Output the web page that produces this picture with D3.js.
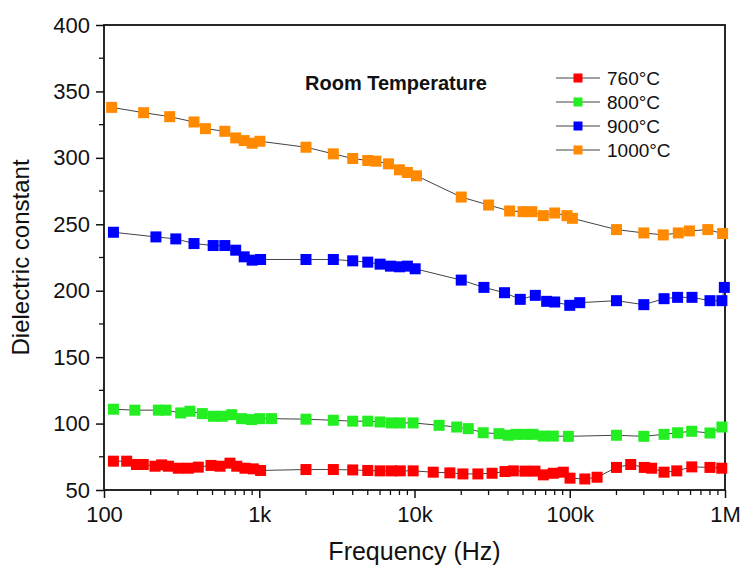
<!DOCTYPE html>
<html>
  <head>
    <meta charset="utf-8" />
    <title>Dielectric constant vs frequency</title>
    <script src="https://d3js.org/d3.v7.min.js"></script>
    <style>
      body { margin: 0; background: white; }
      text { font-family: "Liberation Sans", Arial, sans-serif; fill: #111; }
    </style>
  </head>
  <body>
    <svg width="742" height="570" id="chart"></svg>

    <script>
      // Data
      var seriesNames = ["760°C", "800°C", "900°C", "1000°C"];
      var seriesColors = ["#ff0000", "#22ee22", "#0000ff", "#ff8a00"];

      var freq760 = [115, 140, 162, 179, 213, 235, 260, 301, 349, 405, 489, 559, 648, 716, 809, 916, 1020,
        2000, 3000, 4000, 5000, 6000, 7100, 8100, 9800, 13200, 16900, 20500, 25600, 31600, 38300, 43300,
        51500, 59700, 67600, 78300, 90900, 100400, 125000, 150000, 200000, 247000, 302000, 337000,
        405000, 489000, 611000, 800000, 953000];
      var val760 = [71.7, 71.7, 69.2, 69.2, 67.9, 68.9, 67.9, 66.4, 66.4, 67.2, 68.5, 67.9, 70.2, 67.9, 66.4,
        65.9, 64.7, 65.4, 65.4, 65.1, 64.7, 64.4, 64.4, 64.4, 64.4, 63.4, 62.9, 62.1, 62.1, 62.6, 63.9, 64.4,
        64.2, 64.2, 61.4, 62.6, 63.4, 58.9, 58.3, 59.6, 67, 69.2, 67, 66.4, 63.4, 64.4, 67.4, 67, 66.4];

      var freq800 = [115, 158, 224, 251, 312, 358, 430, 506, 578, 665, 771, 894, 1010, 1200, 2000, 3000,
        4000, 5000, 6000, 7100, 8100, 9800, 14400, 18700, 22200, 27700, 35000, 40200, 45000, 51000, 58000,
        67500, 78300, 98000, 200000, 300000, 405000, 495000, 610000, 800000, 955000];
      var val800 = [110.8, 110.1, 110.1, 110.1, 108, 109.3, 107.5, 105.5, 105.5, 106.7, 103.7, 103, 103.7,
        103.7, 103.3, 102.5, 101.8, 101.8, 101.2, 100.5, 100.5, 100.5, 98.7, 97.4, 96.2, 93.1, 92.4, 91.2,
        91.9, 91.9, 91.9, 90.6, 90.6, 90.4, 91.2, 90.4, 91.9, 93.1, 94.2, 92.9, 97.4];

      var freq900 = [115, 216, 290, 380, 505, 600, 705, 800, 900, 1020, 2000, 3000, 4000, 5000, 6000, 7000,
        8000, 9000, 10100, 20000, 28000, 38000, 48000, 60000, 71000, 80000, 100000, 116000, 200000, 300000,
        405000, 495000, 613000, 800000, 955000, 990000];
      var val900 = [244, 240.5, 239, 235.5, 234, 234, 230.5, 225.5, 223, 223.5, 223.5, 223.5, 222.5, 221.5,
        220, 218.5, 218, 218.5, 216.5, 208, 202.5, 198.5, 193.5, 196.5, 192, 191.5, 189, 191, 192.5, 189.5,
        194, 195, 195, 192.5, 192.5, 202.5];

      var freq1000 = [112, 180, 265, 380, 450, 600, 705, 800, 900, 1010, 2000, 3000, 4000, 5000, 5650, 6800,
        8000, 9000, 10300, 20000, 30000, 41000, 50000, 57000, 67500, 80000, 96000, 104000, 200000, 300000,
        400000, 500000, 590000, 775000, 965000];
      var val1000 = [338, 334, 331, 327, 322, 320, 315, 313, 311, 312.5, 308, 303, 299.5, 298, 297.5, 295.5,
        291, 289, 286.5, 270.5, 264.5, 260, 259.5, 259.5, 256.5, 258.5, 256.5, 254.5, 246, 243.5, 242, 243.5,
        245, 246, 243];

      var xTickValues = [100, 1000, 10000, 100000, 1000000];
      var xTickLabels = ["100", "1k", "10k", "100k", "1M"];
      var yTickValues = [50, 100, 150, 200, 250, 300, 350, 400];

      var allFreqs = [freq760, freq800, freq900, freq1000];
      var allVals = [val760, val800, val900, val1000];

      var series = seriesNames.map(function(name, i) {
        return {
          name: name,
          color: seriesColors[i],
          points: allFreqs[i].map(function(f, j) { return { f: f, v: allVals[i][j] }; })
        };
      });

      var plotLeft = 104, plotRight = 725, plotTop = 25, plotBottom = 490;
      var svg = d3.select("#chart");

      var x = d3.scaleLog().domain([100, 1000000]).range([plotLeft, plotRight]);
      var y = d3.scaleLinear().domain([50, 400]).range([plotBottom, plotTop]);

      // minor ticks
      var xMinor = [];
      for (var d = 100; d < 1000000; d *= 10) {
        for (var k = 2; k <= 9; k++) xMinor.push(d * k);
      }
      var yMinor = d3.range(75, 400, 50);

      // bottom axis
      var xAxis = d3.axisBottom(x).tickValues(xTickValues)
        .tickFormat(function(d, i) { return xTickLabels[i]; })
        .tickSize(8).tickPadding(6);
      var gx = svg.append("g").attr("transform", "translate(0," + plotBottom + ")").call(xAxis);
      gx.selectAll("line").attr("stroke", "#111").attr("stroke-width", 1.5);
      gx.select(".domain").remove();
      gx.selectAll("text").style("font-size", "22px").attr("dy", "0.8em");
      gx.selectAll(".minor").data(xMinor).enter().append("line")
        .attr("class", "minor")
        .attr("x1", function(d) { return x(d); }).attr("x2", function(d) { return x(d); })
        .attr("y1", 0).attr("y2", 5)
        .attr("stroke", "#111").attr("stroke-width", 1.3);

      // left axis
      var yAxis = d3.axisLeft(y).tickValues(yTickValues).tickSize(8).tickPadding(6);
      var gy = svg.append("g").attr("transform", "translate(" + plotLeft + ",0)").call(yAxis);
      gy.selectAll("line").attr("stroke", "#111").attr("stroke-width", 1.5);
      gy.select(".domain").remove();
      gy.selectAll("text").style("font-size", "22px");
      gy.selectAll(".minor").data(yMinor).enter().append("line")
        .attr("class", "minor")
        .attr("x1", 0).attr("x2", -5)
        .attr("y1", function(d) { return y(d); }).attr("y2", function(d) { return y(d); })
        .attr("stroke", "#111").attr("stroke-width", 1.3);

      // frame
      svg.append("rect")
        .attr("x", plotLeft).attr("y", plotTop)
        .attr("width", plotRight - plotLeft).attr("height", plotBottom - plotTop)
        .attr("fill", "none").attr("stroke", "#111").attr("stroke-width", 1.8);

      // lines + markers
      var line = d3.line()
        .x(function(d) { return x(d.f); })
        .y(function(d) { return y(d.v); });

      var plot = svg.append("g");
      series.forEach(function(s) {
        plot.append("path")
          .attr("d", line(s.points))
          .attr("fill", "none")
          .attr("stroke", "#444")
          .attr("stroke-width", 1);
      });
      series.forEach(function(s) {
        plot.selectAll(null).data(s.points).enter().append("rect")
          .attr("x", function(d) { return x(d.f) - 5.5; })
          .attr("y", function(d) { return y(d.v) - 5.5; })
          .attr("width", 11).attr("height", 11)
          .attr("fill", s.color);
      });

      // title inside plot
      svg.append("text")
        .attr("x", 305).attr("y", 90)
        .style("font-size", "20px").style("font-weight", "bold")
        .text("Room Temperature");

      // legend
      var legend = svg.append("g").attr("transform", "translate(556,78)");
      series.forEach(function(s, i) {
        var g = legend.append("g").attr("transform", "translate(0," + (i * 24) + ")");
        g.append("line").attr("x1", 0).attr("x2", 44).attr("y1", 0).attr("y2", 0)
          .attr("stroke", "#444").attr("stroke-width", 1);
        g.append("rect").attr("x", 17.5).attr("y", -4.5).attr("width", 9).attr("height", 9)
          .attr("fill", s.color);
        g.append("text").attr("x", 51).attr("y", 7)
          .style("font-size", "19px").text(s.name);
      });

      // axis titles
      svg.append("text")
        .attr("x", (plotLeft + plotRight) / 2).attr("y", 560)
        .attr("text-anchor", "middle")
        .style("font-size", "25px")
        .text("Frequency (Hz)");

      svg.append("text")
        .attr("transform", "translate(29," + ((plotTop + plotBottom) / 2) + ") rotate(-90)")
        .attr("text-anchor", "middle")
        .style("font-size", "24px")
        .text("Dielectric constant");
    </script>
  </body>
</html>
